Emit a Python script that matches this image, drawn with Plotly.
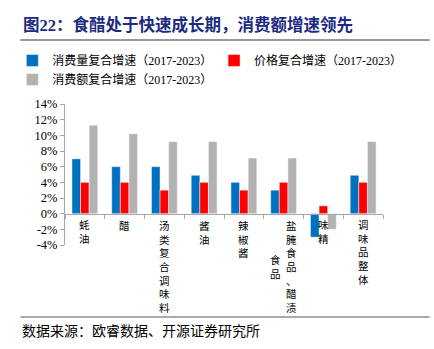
import plotly.graph_objects as go

# ---- data ----
categories = ["蚝油", "醋", "汤类复合调味料", "酱油", "辣椒酱", "盐腌食品、醋渍食品", "味精", "调味品整体"]
label_columns = [["蚝油"], ["醋"], ["汤类复合调味料"], ["酱油"], ["辣椒酱"], ["盐腌食品、醋渍", "食品"], ["味精"], ["调味品整体"]]
volume_cagr = [7.0, 6.0, 6.0, 4.9, 4.0, 3.0, -3.0, 4.9]
price_cagr = [4.0, 4.0, 3.0, 4.0, 3.0, 4.0, 1.0, 4.0]
value_cagr = [11.3, 10.2, 9.2, 9.2, 7.1, 7.1, -2.0, 9.2]
series_names = ["消费量复合增速（2017-2023）", "价格复合增速（2017-2023）", "消费额复合增速（2017-2023）"]
y_ticks = [-4, -2, 0, 2, 4, 6, 8, 10, 12, 14]

title_text = "图22：食醋处于快速成长期，消费额增速领先"
source_text = "数据来源：欧睿数据、开源证券研究所"

# ---- layout geometry ----
W, H = 434, 349
ML, MR, MT, MB = 63, 51, 104, 104
PW, PH = W - ML - MR, H - MT - MB


def px_x(px):
    return (px - ML) / PW


def px_y(py):
    return (H - MB - py) / PH


FONT = "Liberation Serif, Noto Sans CJK SC, serif"
AXIS_COLOR = "#A6A6A6"

fig = go.Figure()
fig.add_trace(go.Bar(x=categories, y=volume_cagr, name=series_names[0],
                     marker=dict(color="#0070C0", line=dict(color="rgba(255,255,255,0.45)", width=1)),
                     legend="legend"))
fig.add_trace(go.Bar(x=categories, y=price_cagr, name=series_names[1],
                     marker=dict(color="#FF0000", line=dict(color="rgba(255,255,255,0.45)", width=1)),
                     legend="legend2"))
fig.add_trace(go.Bar(x=categories, y=value_cagr, name=series_names[2],
                     marker=dict(color="#B2B2B2", line=dict(color="rgba(255,255,255,0.45)", width=1)),
                     legend="legend"))

ymin, ymax = y_ticks[0], y_ticks[-1]

annotations = []
line_h = 10.5 * 1.3
for cat, cols in zip(categories, label_columns):
    n = len(cols)
    for i, col in enumerate(cols):
        xshift = ((n - 1) / 2 - i) * 16
        yshift = -4 - (len(cols[0]) - len(col)) / 2 * line_h
        annotations.append(dict(
            x=cat, y=0, xref="x", yref="y", text="<br>".join(list(col)),
            showarrow=False, xanchor="center", yanchor="top",
            xshift=xshift, yshift=yshift,
            font=dict(family=FONT, size=10.5, color="#000000"),
        ))

annotations.append(dict(
    x=px_x(19), y=px_y(25), xref="paper", yref="paper", text="<b>" + title_text + "</b>",
    showarrow=False, xanchor="left", yanchor="middle",
    font=dict(family=FONT, size=16.5, color="#1C2A80"),
))
annotations.append(dict(
    x=px_x(18), y=px_y(331), xref="paper", yref="paper", text=source_text,
    showarrow=False, xanchor="left", yanchor="middle",
    font=dict(family=FONT, size=14, color="#000000"),
))

shapes = [
    dict(type="line", xref="paper", yref="paper", x0=px_x(18), x1=px_x(430), y0=px_y(40), y1=px_y(40),
         line=dict(color="#333333", width=1)),
    dict(type="line", xref="paper", yref="paper", x0=px_x(18), x1=px_x(430), y0=px_y(317), y1=px_y(317),
         line=dict(color="#555555", width=1)),
]

fig.update_layout(
    width=W, height=H,
    margin=dict(l=ML, r=MR, t=MT, b=MB),
    paper_bgcolor="white", plot_bgcolor="white",
    barmode="group", bargap=0.35, bargroupgap=0,
    font=dict(family=FONT, size=12, color="#000000"),
    showlegend=True,
    legend=dict(orientation="v", x=px_x(10), y=px_y(46), xanchor="left", yanchor="top",
                font=dict(family=FONT, size=12, color="#000000"), bgcolor="rgba(0,0,0,0)",
                tracegroupgap=0),
    legend2=dict(orientation="v", x=px_x(213), y=px_y(46), xanchor="left", yanchor="top",
                 font=dict(family=FONT, size=12, color="#000000"), bgcolor="rgba(0,0,0,0)"),
    xaxis=dict(type="category", range=[-0.5, len(categories) - 0.5],
               anchor="free", position=(0 - ymin) / (ymax - ymin),
               showline=True, linecolor=AXIS_COLOR, linewidth=1,
               ticks="outside", tickson="boundaries", ticklen=4, tickcolor=AXIS_COLOR,
               showticklabels=False, showgrid=False, zeroline=False),
    yaxis=dict(range=[ymin, ymax], tickvals=y_ticks, ticktext=[f"{v}%" for v in y_ticks],
               showline=True, linecolor=AXIS_COLOR, linewidth=1,
               ticks="outside", ticklen=4, tickcolor=AXIS_COLOR,
               showgrid=False, zeroline=False,
               tickfont=dict(family=FONT, size=12.5, color="#000000")),
    annotations=annotations,
    shapes=shapes,
)

fig.write_html("out.html")
